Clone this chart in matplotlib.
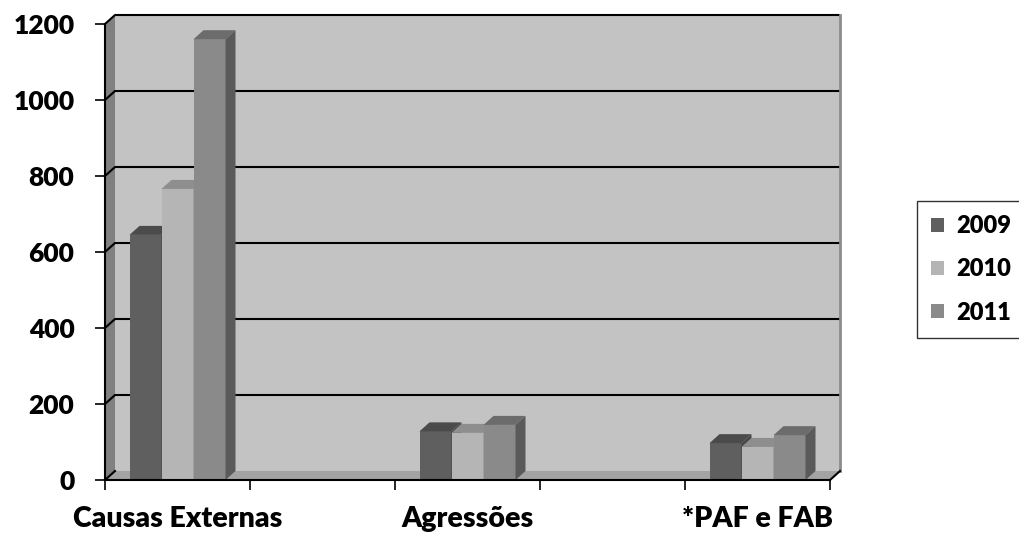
import numpy as np
import matplotlib
matplotlib.use('Agg')
import matplotlib.pyplot as plt
from matplotlib.patches import Polygon, Rectangle, Patch

# dados
categorias = ['Causas Externas', 'Agressões', '*PAF e FAB']
anos = ['2009', '2010', '2011']
v2009 = [645, 128, 97]
v2010 = [766, 124, 87]
v2011 = [1160, 145, 118]
yticks = [0, 200, 400, 600, 800, 1000, 1200]

series = [v2009, v2010, v2011]
cores_frente = ['#5f5f5f', '#b5b5b5', '#8a8a8a']
cores_topo = ['#4b4b4b', '#8e8e8e', '#6c6c6c']
cores_lado = ['#474747', '#8a8a8a', '#5a5a5a']

plt.rcParams['font.family'] = ['Lato', 'DejaVu Sans']
plt.rcParams['font.weight'] = 'heavy'

fig = plt.figure(figsize=(10.19, 5.34), dpi=100)
ax = fig.add_axes([105/1019, 54/534, 735/1019, 465/534])

# profundidade do "3D" (em unidades de dados)
dx = 10/145
dy = 9/0.38
ymax = yticks[-1]
n_slots = 2*len(categorias) - 1
x0, x1 = -0.5, n_slots - 0.5
ax.set_xlim(x0, x1 + dx)
ax.set_ylim(0, ymax + dy)

# paredes e chao
ax.add_patch(Rectangle((x0 + dx, dy), x1 - x0, ymax, fc='#c3c3c3', ec='none', zorder=0))
ax.add_patch(Polygon([(x0, 0), (x0, ymax), (x0 + dx, ymax + dy), (x0 + dx, dy)],
                     fc='#808080', ec='none', zorder=0))
ax.add_patch(Polygon([(x0, 0), (x1, 0), (x1 + dx, dy), (x0 + dx, dy)],
                     fc='#a3a3a3', ec='none', zorder=0))

# linhas de grade na parede do fundo
for y in yticks[1:]:
    ax.plot([x0, x0 + dx, x1 + dx], [y, y + dy, y + dy], color='black', lw=1.5,
            zorder=1, clip_on=False, solid_capstyle='butt')
ax.plot([x1 + dx, x1 + dx], [dy, ymax + dy], color='#8c8c8c', lw=2, clip_on=False, zorder=1)
ax.plot([x0, x0 + dx], [0, dy], color='black', lw=1.5, zorder=1)

# barras
W = 32/145
k = 0
for i in range(len(categorias)):
    xc = 2*i
    for j, vals in enumerate(series):
        v = vals[i]
        xl = xc + (j - 1.5)*W
        z = 3 + 0.01*k
        k += 1
        ax.bar(xl, v, width=W, align='edge', color=cores_frente[j], zorder=z, lw=0)
        ax.add_patch(Polygon([(xl, v), (xl + W, v), (xl + W + dx, v + dy), (xl + dx, v + dy)],
                             fc=cores_topo[j], ec='none', zorder=z))
        ax.add_patch(Polygon([(xl + W, 0), (xl + W, v), (xl + W + dx, v + dy), (xl + W + dx, dy)],
                             fc=cores_lado[j], ec='none', zorder=z))

ax.plot([x1, x1 + dx], [0, dy], color='black', lw=1.5, clip_on=False, zorder=5)

# eixos
for s in ['top', 'right']:
    ax.spines[s].set_visible(False)
ax.spines['left'].set_bounds(0, ymax)
ax.spines['bottom'].set_bounds(x0, x1)
for s in ['left', 'bottom']:
    ax.spines[s].set_linewidth(1.5)
    ax.spines[s].set_zorder(6)

ax.set_yticks(yticks)
ax.set_yticklabels([str(t) for t in yticks])
ax.tick_params(axis='y', length=7, width=1.2, pad=15, labelsize=19)

ax.set_xticks(np.arange(x0, x1 + 1))
ax.set_xticklabels([])
ax.set_xticks([2*i for i in range(len(categorias))], minor=True)
ax.set_xticklabels(categorias, minor=True)
ax.tick_params(axis='x', which='major', length=7, width=1.2)
ax.tick_params(axis='x', which='minor', length=0, pad=19, labelsize=20.5)

# legenda
handles = [Patch(fc=c, ec='none') for c in cores_frente]
leg = fig.legend(handles, anos, loc='upper left', bbox_to_anchor=(917/1019, 1 - 201/534),
                 frameon=True, fancybox=False, edgecolor='black', fontsize=17,
                 handlelength=0.55, handleheight=0.55, handletextpad=0.5,
                 labelspacing=0.9, borderpad=0.6, borderaxespad=0)
leg.get_frame().set_linewidth(1)

fig.savefig('out.png', dpi=100)
